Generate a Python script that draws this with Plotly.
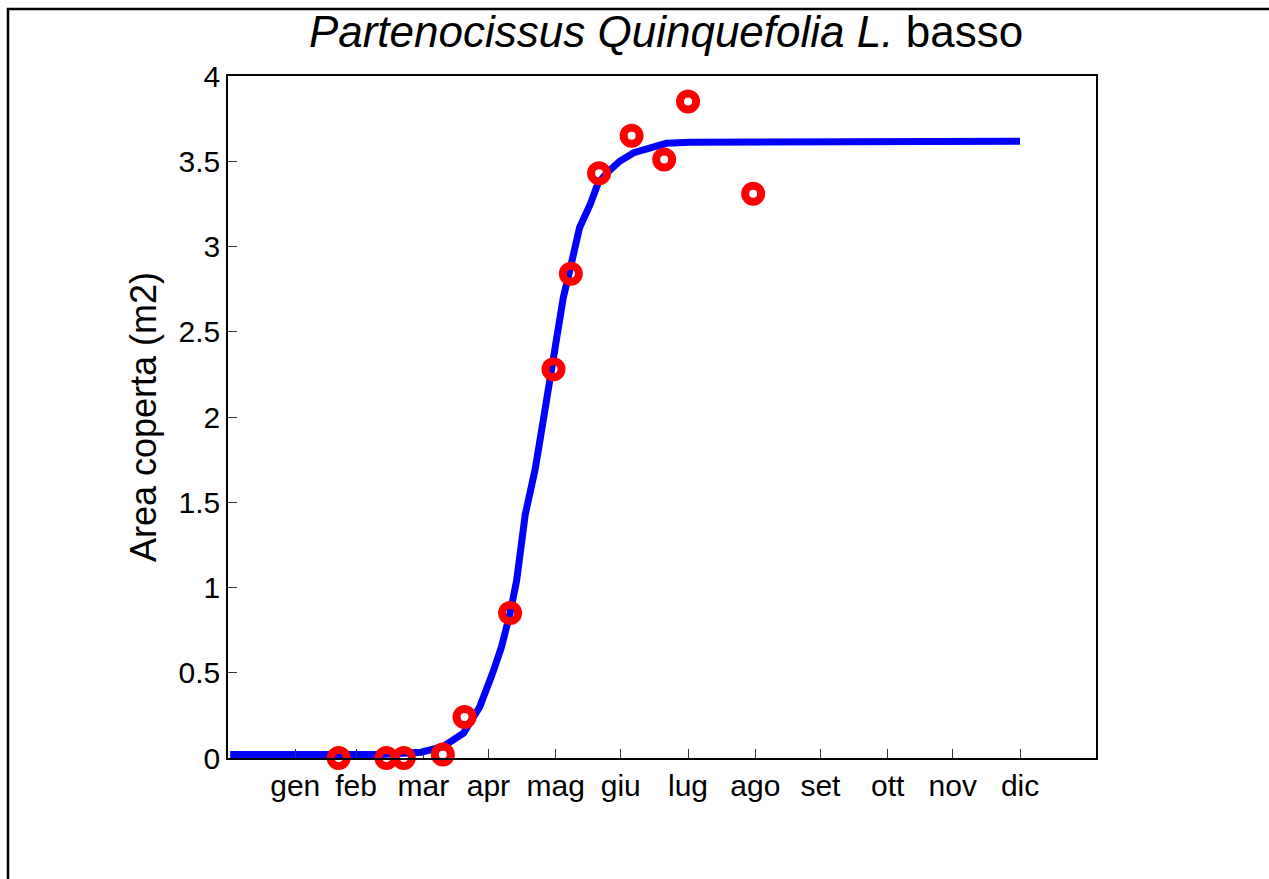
import plotly.graph_objects as go

# Measured leaf cover (day of year, m2)
obs_day = [51, 73, 81, 99, 109, 130, 150, 158, 171, 186, 201, 212, 242]
obs_area = [0.0, 0.0, 0.0, 0.02, 0.24, 0.85, 2.28, 2.84, 3.43, 3.65, 3.51, 3.85, 3.31]

# Fitted growth curve (day of year, m2)
fit_day = [1, 70, 89, 99, 108.5, 116, 122, 126, 130, 133, 137, 140, 141.5, 144.5,
           147, 150, 151.5, 154.5, 157.5, 160, 162, 167, 170.5, 174.5, 180.5, 187,
           194.5, 202, 213, 365]
fit_area = [0.02, 0.02, 0.034, 0.066, 0.145, 0.30, 0.50, 0.65, 0.85, 1.04, 1.43,
            1.59, 1.69, 1.92, 2.12, 2.31, 2.47, 2.70, 2.86, 3.00, 3.11, 3.25, 3.37,
            3.43, 3.50, 3.55, 3.58, 3.605, 3.612, 3.617]

# Month tick positions (day of year) and labels
month_days = [31, 59, 90, 120, 151, 181, 212, 243, 273, 304, 334, 365]
month_labels = ["gen", "feb", "mar", "apr", "mag", "giu", "lug", "ago", "set", "ott", "nov", "dic"]
y_ticks = [0, 0.5, 1, 1.5, 2, 2.5, 3, 3.5, 4]
y_labels = ["0", "0.5", "1", "1.5", "2", "2.5", "3", "3.5", "4"]

FONT = "Liberation Sans, Arial, sans-serif"

fig = go.Figure()
fig.add_trace(go.Scatter(
    x=fit_day, y=fit_area, mode="lines",
    line=dict(color="#0000FF", width=7),
    showlegend=False, hoverinfo="skip",
))
fig.add_trace(go.Scatter(
    x=obs_day, y=obs_area, mode="markers",
    marker=dict(symbol="circle-open", size=16, color="#FF0000",
                line=dict(color="#FF0000", width=8)),
    showlegend=False, cliponaxis=False,
))

W, H = 1269, 879
L, R, T, B = 228, 1096, 76, 758
pw, ph = R - L, B - T

def px_x(px):
    return (px - L) / pw

def px_y(py):
    return (B - py) / ph

fig.update_layout(
    width=W, height=H, autosize=False,
    margin=dict(l=L, r=W - R, t=T, b=H - B, pad=0),
    paper_bgcolor="white", plot_bgcolor="white",
    font=dict(family=FONT, size=30, color="black"),
    title=dict(
        text="<i>Partenocissus Quinquefolia L.</i> basso",
        x=px_x(666), xref="paper", xanchor="center",
        y=1 - 32 / H, yref="container", yanchor="middle",
        font=dict(family=FONT, size=44, color="black"),
    ),
    xaxis=dict(
        range=[0, 400], tickmode="array", tickvals=month_days, ticktext=month_labels,
        ticks="inside", ticklen=9, tickwidth=1, tickcolor="#333333",
        showline=True, linecolor="black", linewidth=1.5, mirror=True,
        showgrid=False, zeroline=False,
        tickfont=dict(family=FONT, size=30, color="black"),
    ),
    yaxis=dict(
        range=[0, 4], tickmode="array", tickvals=y_ticks, ticktext=y_labels,
        ticks="inside", ticklen=9, tickwidth=1, tickcolor="#333333",
        showline=True, linecolor="black", linewidth=1.5, mirror=True,
        showgrid=False, zeroline=False,
        tickfont=dict(family=FONT, size=30, color="black"),
    ),
    annotations=[dict(
        text="Area coperta (m2)", textangle=-90,
        xref="paper", yref="paper", x=px_x(143), y=0.5,
        xanchor="center", yanchor="middle", showarrow=False,
        font=dict(family=FONT, size=36, color="black"),
    )],
    shapes=[dict(
        type="rect", xref="paper", yref="paper",
        x0=px_x(8), x1=px_x(1285), y0=px_y(900), y1=px_y(9),
        line=dict(color="black", width=2.5), fillcolor="rgba(0,0,0,0)", layer="above",
    )],
)

fig.write_html("out.html")
